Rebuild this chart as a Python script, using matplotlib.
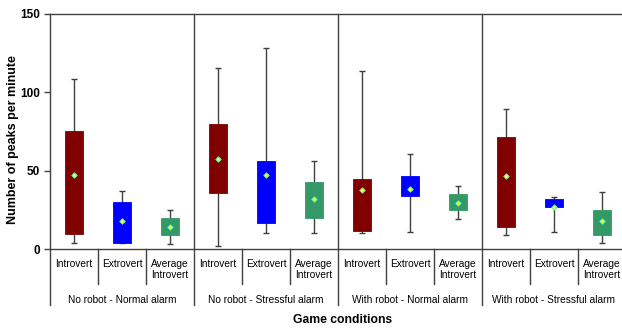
import matplotlib
matplotlib.use("Agg")
import matplotlib.pyplot as plt
import numpy as np

plt.rcParams['font.family'] = ['Liberation Sans', 'DejaVu Sans']

groups = ["No robot - Normal alarm", "No robot - Stressful alarm",
          "With robot - Normal alarm", "With robot - Stressful alarm"]
subcats = ["Introvert", "Extrovert", "Average\nIntrovert"]

whisker_low = [3.6, 3.6, 3.0,   1.7, 10.0, 10.0,   10.0, 10.6, 19.0,   8.7, 10.6, 3.6]
q1          = [9.4, 4.0, 8.7,   35.5, 16.6, 19.8,  11.3, 34.0, 24.7,   13.8, 27.0, 8.7]
q3          = [75.1, 30.2, 19.6, 80.0, 56.4, 42.8, 44.5, 46.4, 35.1,   71.3, 31.9, 24.9]
whisker_high= [108.3, 37.2, 24.9, 115.5, 128.3, 56.4, 113.6, 60.4, 40.4, 89.6, 33.0, 36.2]
means       = [47.4, 17.9, 13.8, 57.2, 47.4, 31.7,  37.4, 38.5, 29.6,  46.4, 27.0, 17.7]

colors = ["#800000", "#0000FF", "#339966"]

W, H = 622, 329
fig = plt.figure(figsize=(W/100, H/100), dpi=100)
left_px, right_px, top_px, bot_px = 50, 626, 14, 249
ax = fig.add_axes([left_px/W, 1-bot_px/H, (right_px-left_px)/W, (bot_px-top_px)/H])

n = len(means)
x = np.arange(n) + 0.5
cols = [colors[i % 3] for i in range(n)]
line_c = "#404040"

ax.vlines(x, whisker_low, whisker_high, color=line_c, lw=1.0, zorder=1)
ax.hlines(whisker_low, x-0.06, x+0.06, color=line_c, lw=1.0, zorder=1)
ax.hlines(whisker_high, x-0.06, x+0.06, color=line_c, lw=1.0, zorder=1)
ax.bar(x, np.array(q3)-np.array(q1), bottom=q1, width=0.375, color=cols,
       edgecolor=cols, lw=0.6, zorder=2)
ax.scatter(x, means, marker='D', s=8, facecolor='#EEFF33', edgecolor='#55EEBB',
           linewidths=0.6, zorder=3)

ax.set_xlim(0, n)
ax.set_ylim(0, 150)
ax.set_yticks([0, 50, 100, 150])
ax.set_yticklabels(["0", "50", "100", "150"], fontweight='bold', fontsize=8.5)
ax.tick_params(axis='y', direction='out', length=4, width=1, color=line_c, pad=3)
ax.set_xticks([])
for s in ['left', 'top', 'bottom', 'right']:
    ax.spines[s].set_color(line_c)
    ax.spines[s].set_linewidth(1.0)
ax.spines['left'].set_visible(False)

ax.set_ylabel("Number of peaks per minute", fontweight='bold', fontsize=9)
ax.yaxis.set_label_coords(-37/576, 0.464)
ax.yaxis.label.set_verticalalignment('center')

trans = ax.get_xaxis_transform()
ax_h_px = bot_px - top_px
def below(px):
    return -px / ax_h_px

# group dividers (full height + below)
for g in range(len(groups) + 1):
    ax.plot([3*g, 3*g], [1.0, below(56)], transform=trans, color=line_c,
            lw=1.0, clip_on=False, zorder=4)
# subcategory dividers
for g in range(len(groups)):
    for k in (1, 2):
        ax.plot([3*g+k, 3*g+k], [0, below(35)], transform=trans, color=line_c,
                lw=1.0, clip_on=False)
# subcategory labels
for i in range(n):
    ax.text(x[i], below(10), subcats[i % 3], transform=trans, ha='center',
            va='top', fontsize=7.3, linespacing=1.1)
# group labels
for g, name in enumerate(groups):
    ax.text(3*g + 1.5, below(51), name, transform=trans, ha='center',
            va='center', fontsize=7.3)
ax.text(6.1, below(71), "Game conditions", transform=trans, ha='center',
        va='center', fontsize=8.7, fontweight='bold')

fig.savefig("out.png", dpi=100)
